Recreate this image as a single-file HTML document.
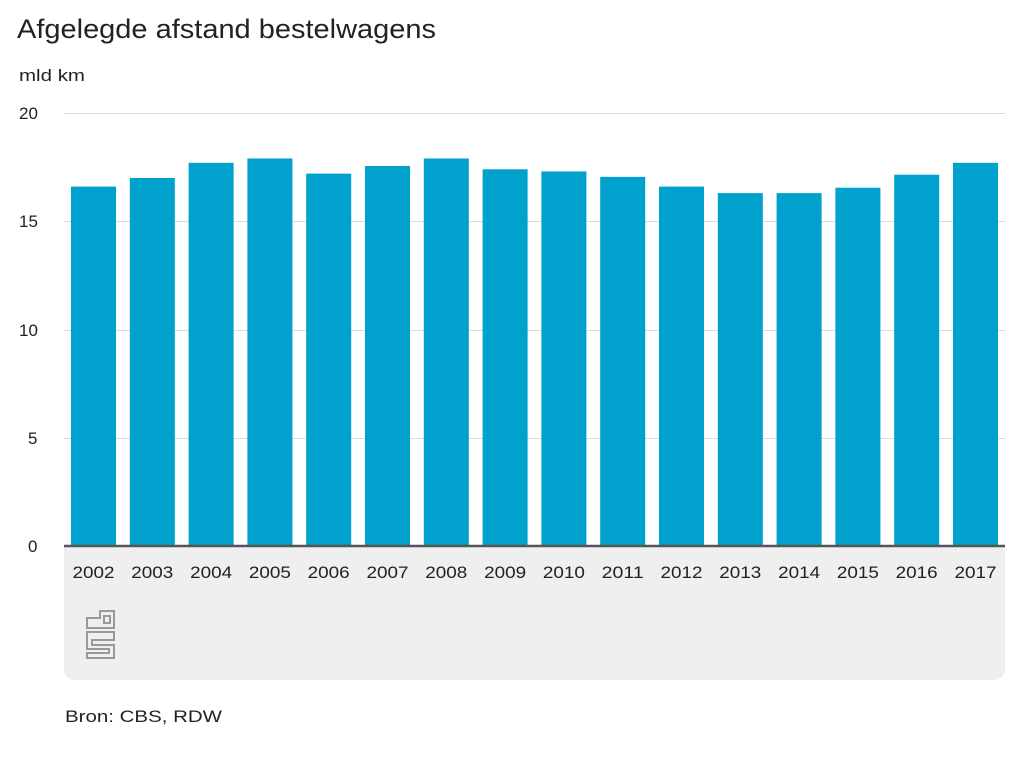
<!DOCTYPE html>
<html><head><meta charset="utf-8"><style>
body{margin:0;background:#fff;width:1024px;height:768px;overflow:hidden;font-family:"Liberation Sans",Arial,sans-serif;}
</style></head><body>
<svg width="1024" height="768" xmlns="http://www.w3.org/2000/svg" font-family="Liberation Sans, Arial, sans-serif">
<text x="17" y="38" font-size="27" fill="#222" textLength="419" lengthAdjust="spacingAndGlyphs">Afgelegde afstand bestelwagens</text>
<text x="19" y="81" font-size="17" fill="#222" textLength="66" lengthAdjust="spacingAndGlyphs">mld km</text>
<path d="M64 546 H1005 V668 Q1005 680 993 680 H76 Q64 680 64 668 Z" fill="#efefef"/>
<g stroke="#dcdcdc" stroke-width="1">
<line x1="64" x2="1005" y1="113.5" y2="113.5"/>
<line x1="64" x2="1005" y1="221.5" y2="221.5"/>
<line x1="64" x2="1005" y1="330.5" y2="330.5"/>
<line x1="64" x2="1005" y1="438.5" y2="438.5"/>
</g>
<g font-size="17" fill="#222">
<text x="19" y="119">20</text><text x="19" y="227">15</text><text x="19" y="336">10</text><text x="28" y="444">5</text><text x="28" y="552">0</text>
</g>
<g fill="#00a1cd" id="bars"></g>
<line x1="64" x2="1005" y1="546" y2="546" stroke="#555" stroke-width="2.5"/>
<g font-size="17" fill="#222" text-anchor="middle" id="labels"></g>
<g fill="none" stroke="#999" stroke-width="2">
<path d="M87 618 H100 V611 H114 V628 H87 Z"/>
<rect x="104" y="616" width="6" height="7"/>
<path d="M87 632 H114 V640 H92 V645 H114 V658 H87 V653 H109 V649 H87 Z"/>
</g>
<text x="65" y="722" font-size="17" fill="#222" textLength="157" lengthAdjust="spacingAndGlyphs">Bron: CBS, RDW</text>
<script>
var v=[16.6,17.0,17.7,17.9,17.2,17.55,17.9,17.4,17.3,17.05,16.6,16.3,16.3,16.55,17.15,17.7];
var b=document.getElementById('bars'),l=document.getElementById('labels'),ns='http://www.w3.org/2000/svg';
v.forEach(function(d,i){var x=71+i*58.8,y=546-d*21.65;
var r=document.createElementNS(ns,'rect');r.setAttribute('x',x);r.setAttribute('y',y);r.setAttribute('width',45);r.setAttribute('height',546-y);b.appendChild(r);
var t=document.createElementNS(ns,'text');t.setAttribute('x',x+22.5);t.setAttribute('y',578);t.setAttribute('textLength',42);t.setAttribute('lengthAdjust','spacingAndGlyphs');t.textContent=2002+i;l.appendChild(t);});
</script>
</svg>
</body></html>
